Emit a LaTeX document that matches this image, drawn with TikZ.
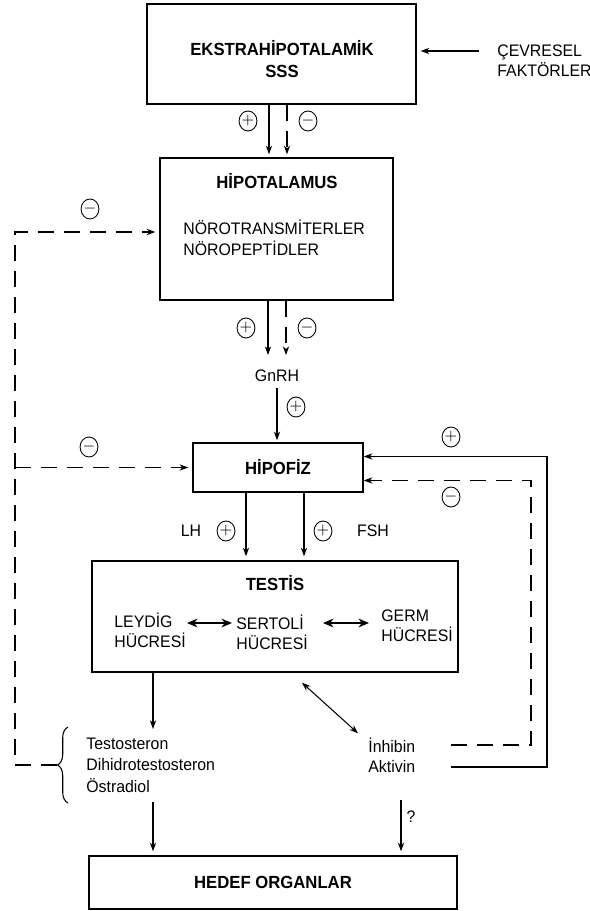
\documentclass[tikz,border=0pt]{standalone}
\usepackage{fontspec}
\setmainfont{Liberation Sans}[FakeStretch=0.95]
\usepackage{tikz}
\usetikzlibrary{arrows.meta,positioning,calc,shapes.geometric,decorations.pathreplacing}

\begin{document}
\begin{tikzpicture}[x=0.02cm,y=-0.02cm,font=\fontsize{9.5}{12.2}\selectfont,>={Stealth[length=5pt,width=3.6pt]},line width=0.6pt,
  box/.style={draw,line width=0.8pt,inner sep=0pt},
  head/.style={font=\fontsize{10}{12.5}\selectfont\bfseries},
  sgn/.style={draw,ellipse,line width=0.5pt,inner sep=0pt,minimum width=0.28cm,minimum height=0.4cm,font=\fontsize{9}{9}\selectfont},
  dsh/.style={dash pattern=on 0.32cm off 0.2cm},
  dbl/.style={<->,>={Stealth[length=6pt,width=5pt]},line width=0.9pt}]
\useasboundingbox (0,0) rectangle (590,911);
% boxes
\node[box,minimum width=5.38cm,minimum height=2cm] (ekstra) at (281.5,54) {};
\node[head,align=center] (ekstraT) at (282,59) {EKSTRAHİPOTALAMİK\\SSS};
\node[align=left,anchor=west,font=\fontsize{9.5}{11.3}\selectfont] (cevre) at (491,61) {ÇEVRESEL\\FAKTÖRLER};
\node[box,minimum width=4.66cm,minimum height=2.84cm] (hipo) at (276.5,229) {};
\node[head] (hipoT) at (277,181) {HİPOTALAMUS};
\node[align=left,anchor=west] (noro) at (177,238) {NÖROTRANSMİTERLER\\NÖROPEPTİDLER};
\node (gnrh) at (277,376) {GnRH};
\node[box,minimum width=3.4cm,minimum height=0.98cm,head] (hipofiz) at (278,467.5) {HİPOFİZ};
\node[box,minimum width=7.32cm,minimum height=2.22cm] (testis) at (275,616.5) {};
\node[head] (testisT) at (275,583) {TESTİS};
\node[align=left,anchor=west,font=\fontsize{9.5}{11.3}\selectfont] (leydig) at (108,630) {LEYDİG\\HÜCRESİ};
\node[align=left,anchor=west,font=\fontsize{9.5}{11.3}\selectfont] (sertoli) at (230,632) {SERTOLİ\\HÜCRESİ};
\node[align=left,anchor=west,font=\fontsize{9.5}{11.3}\selectfont] (germ) at (375,626) {GERM\\HÜCRESİ};
\node[box,minimum width=7.36cm,minimum height=1.06cm,head] (hedef) at (273,882.5) {HEDEF ORGANLAR};
% hormones
\node[align=left,anchor=west] (hormon) at (80,765) {Testosteron\\Dihidrotestosteron\\Östradiol};
\node[anchor=west] (inh) at (362,745) {İnhibin};
\node[anchor=west] (akt) at (362,767) {Aktivin};
\coordinate (inhout) at (451,745);
\coordinate (aktout) at (451,767);
\coordinate (lx) at (15,0);
\coordinate (brtip) at (57,765);
% signs
\node[sgn] (s1) at (248,121) {$+$};
\node[sgn] (s2) at (308,121) {$-$};
\node[sgn] (s3) at (246,328) {$+$};
\node[sgn] (s4) at (307,328) {$-$};
\node[sgn] (s5) at (296,407) {$+$};
\node[sgn] (s6) at (90,209) {$-$};
\node[sgn] (s7) at (89,447) {$-$};
\node[sgn] (s8) at (451,437) {$+$};
\node[sgn] (s9) at (451,497) {$-$};
\node[sgn] (s10) at (226,531) {$+$};
\node[sgn] (s11) at (323,531) {$+$};
\node (lh) at (191,531) {LH};
\node (fsh) at (373,531) {FSH};
\node (q) at (411,817) {?};
% connectors
\draw[->] ($(cevre.west |- 0,51)+(-12,0)$) -- ($(ekstra.east |- 0,51)+(4,0)$);
\draw[->] (ekstra.south -| 269,0) -- ($(hipo.north -| 269,0)+(0,-3)$);
\draw[->,dsh] (ekstra.south -| 287,0) -- ($(hipo.north -| 287,0)+(0,-3)$);
\draw[->] (hipo.south -| 268,0) -- (268,355);
\draw[->,dsh] (hipo.south -| 286,0) -- (286,355);
\draw[->] (gnrh.south) -- ($(hipofiz.north -| gnrh)+(0,-2)$);
\draw[->] (hipofiz.south -| 246,0) -- ($(testis.north -| 246,0)+(0,-4)$);
\draw[->] (hipofiz.south -| 304,0) -- ($(testis.north -| 304,0)+(0,-4)$);
\draw[dbl] (187,623) -- (232,623);
\draw[dbl] (323,623) -- (369,623);
\draw[->] (testis.south -| 153,0) -- (153,729);
\draw[<->] ($(testis.south)+(27,10)$) -- ($(inh.north west)+(-4,2)$);
\draw[->] (153,802) -- ($(hedef.north -| 153,0)+(0,-4)$);
\draw[->] (401,800) -- ($(hedef.north -| 401,0)+(0,-4)$);
% feedback loops
\draw[decorate,decoration={brace,amplitude=6pt},line width=0.6pt] (68,803) -- (68,727);
\draw[->,dsh] (brtip) -- (lx |- brtip) |- ($(hipo.west)+(-4,3)$);
\draw[->,dsh] (lx |- hipofiz.west) -- ($(hipofiz.west)+(-4,0)$);
\draw[->] (aktout) -- (547,767) |- ($(hipofiz.east)+(0,-11)$);
\draw[->,dsh] (inhout) -- (531,745) |- ($(hipofiz.east)+(0,13)$);
\end{tikzpicture}
\end{document}
